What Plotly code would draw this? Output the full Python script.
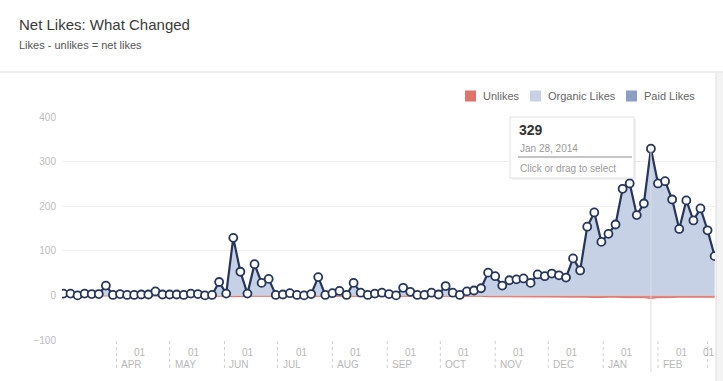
import pandas as pd
import plotly.graph_objects as go

# ---------------- data ----------------
net_likes = [4, 4, 0, 4, 3, 3, 22, 1, 3, 1,
             1, 2, 2, 9, 2, 2, 2, 1, 4, 3,
             0, 1, 30, 4, 129, 53, 4, 70, 28, 37,
             1, 2, 5, 1, 0, 3, 41, 1, 5, 10,
             1, 28, 6, 1, 4, 6, 3, 0, 17, 8,
             1, 1, 6, 2, 21, 6, 1, 9, 11, 16,
             51, 43, 22, 34, 36, 38, 28, 47, 43, 49,
             45, 40, 83, 56, 154, 186, 120, 138, 159, 239,
             251, 180, 206, 329, 251, 256, 215, 149, 213, 168,
             195, 146, 88]
unlikes = [-1, -1, -1, -1, -1, -1, -1, -1, -1, -1,
           -1, -1, -1, -1, -1, -1, -1, -1, -1, -1,
           -1, -1, -2, -2, -3, -2, -2, -2, -2, -2,
           -1, -1, -1, -1, -1, -1, -1, -1, -1, -1,
           -1, -1, -1, -1, -1, -1, -1, -1, -1, -1,
           -1, -1, -1, -1, -2, -2, -2, -2, -2, -2,
           -3, -3, -3, -3, -3, -3, -3, -3, -3, -3,
           -3, -3, -4, -3, -4, -5, -4, -4, -4, -5,
           -5, -5, -5, -7, -5, -5, -4, -4, -4, -4,
           -4, -4, -4]
dates = pd.date_range("2013-03-02", periods=len(net_likes), freq="4D")

month_ticks = ["2013-04-01", "2013-05-01", "2013-06-01", "2013-07-01", "2013-08-01",
               "2013-09-01", "2013-10-01", "2013-11-01", "2013-12-01", "2014-01-01",
               "2014-02-01", "2014-03-01"]
month_names = ["APR", "MAY", "JUN", "JUL", "AUG", "SEP", "OCT", "NOV", "DEC", "JAN", "FEB", ""]
day_label = "01"
y_ticks = [-100, 0, 100, 200, 300, 400]

series_names = ["Unlikes", "Organic Likes", "Paid Likes"]
series_colors = ["#e0726c", "#c6d1e5", "#8d9fc5"]

title = "Net Likes: What Changed"
subtitle = "Likes - unlikes = net likes"

# ---------------- geometry helpers ----------------
W, H = 723, 381
L, R, T, B = 62, 715, 117, 340  # plot area in pixels


def px(x):
    return (x - L) / (R - L)


def py(y):
    return (B - y) / (B - T)


FONT = "Liberation Sans, Arial, sans-serif"
NAVY = "#26355a"

fig = go.Figure()

fig.add_trace(go.Scatter(x=dates, y=unlikes, mode="lines", fill="tozeroy",
                         line=dict(color=series_colors[0], width=1),
                         fillcolor="rgba(224,114,108,0.85)", hoverinfo="skip",
                         showlegend=False))
fig.add_trace(go.Scatter(x=dates, y=net_likes, mode="lines", fill="tozeroy",
                         line=dict(width=0, color=series_colors[1]),
                         fillcolor=series_colors[1], hoverinfo="skip", showlegend=False))

# hover guide line at peak
peak_i = max(range(len(net_likes)), key=lambda i: net_likes[i])
peak_date = dates[peak_i]
peak_val = net_likes[peak_i]

fig.add_shape(type="line", xref="x", yref="paper", x0=peak_date, x1=peak_date,
              y0=py(372), y1=(peak_val + 100) / 500, line=dict(color="#d9dde4", width=1),
              layer="above")

fig.add_trace(go.Scatter(x=dates, y=net_likes, mode="lines+markers",
                         line=dict(color=NAVY, width=2.2),
                         marker=dict(size=8, color="white", line=dict(color=NAVY, width=1.8)),
                         showlegend=False, name="Net likes"))

shapes = []
annotations = []

# header band
shapes.append(dict(type="rect", xref="paper", yref="paper", x0=px(0), x1=px(W),
                   y0=py(72), y1=py(0), fillcolor="#f1f1f1", line=dict(width=0), layer="above"))
shapes.append(dict(type="line", xref="paper", yref="paper", x0=px(0), x1=px(W),
                   y0=py(72), y1=py(72), line=dict(color="#dcdcdc", width=1), layer="above"))
# right border strip
shapes.append(dict(type="rect", xref="paper", yref="paper", x0=px(716), x1=px(W),
                   y0=py(H), y1=py(73), fillcolor="#f3f3f3", line=dict(width=0), layer="above"))
shapes.append(dict(type="line", xref="paper", yref="paper", x0=px(716), x1=px(716),
                   y0=py(H), y1=py(73), line=dict(color="#dedede", width=1), layer="above"))

annotations.append(dict(text=title, xref="paper", yref="paper", x=px(17), y=py(25),
                        xanchor="left", yanchor="middle", showarrow=False,
                        font=dict(family=FONT, size=15, color="#3a3a3a")))
annotations.append(dict(text=subtitle, xref="paper", yref="paper", x=px(17), y=py(45),
                        xanchor="left", yanchor="middle", showarrow=False,
                        font=dict(family=FONT, size=11, color="#555555")))

# month ticks (dotted) and labels
for d, name in zip(month_ticks, month_names):
    shapes.append(dict(type="line", xref="x", yref="paper", x0=d, x1=d, y0=py(341), y1=py(371),
                       line=dict(color="#cfcfcf", width=1, dash="dot")))
    if name:
        annotations.append(dict(text=day_label, xref="x", yref="paper", x=d, y=py(352),
                                xshift=24, xanchor="center", yanchor="middle", showarrow=False,
                                font=dict(family=FONT, size=10, color="#b8b8b8")))
        annotations.append(dict(text=name, xref="x", yref="paper", x=d, y=py(364),
                                xshift=3, xanchor="left", yanchor="middle", showarrow=False,
                                font=dict(family=FONT, size=10, color="#b8b8b8")))
    else:
        annotations.append(dict(text=day_label, xref="x", yref="paper", x=d, y=py(352),
                                xshift=1, xanchor="center", yanchor="middle", showarrow=False,
                                font=dict(family=FONT, size=10, color="#b8b8b8")))

# legend (custom squares)
leg_x = [465, 530, 626]
for xx, name, col in zip(leg_x, series_names, series_colors):
    shapes.append(dict(type="rect", xref="paper", yref="paper", x0=px(xx), x1=px(xx + 11),
                       y0=py(101.5), y1=py(90.5), fillcolor=col, line=dict(width=0)))
    annotations.append(dict(text=name, xref="paper", yref="paper", x=px(xx + 16), y=py(96),
                            xanchor="left", yanchor="middle", showarrow=False,
                            font=dict(family=FONT, size=11, color="#666666")))

# tooltip
shapes.append(dict(type="rect", xref="paper", yref="paper", x0=px(512), x1=px(636),
                   y0=py(180), y1=py(119), fillcolor="rgba(0,0,0,0.06)", line=dict(width=0),
                   layer="above"))
shapes.append(dict(type="rect", xref="paper", yref="paper", x0=px(510), x1=px(634),
                   y0=py(178), y1=py(117), fillcolor="white", line=dict(color="#e2e2e2", width=1),
                   layer="above"))
shapes.append(dict(type="line", xref="paper", yref="paper", x0=px(518), x1=px(632),
                   y0=py(157), y1=py(157), line=dict(color="#8a8a8a", width=1), layer="above"))
annotations.append(dict(text="<b>%d</b>" % peak_val, xref="paper", yref="paper", x=px(517), y=py(130),
                        xanchor="left", yanchor="middle", showarrow=False,
                        font=dict(family=FONT, size=14, color="#333333")))
annotations.append(dict(text=peak_date.strftime("%b %d, %Y"), xref="paper", yref="paper",
                        x=px(518), y=py(148), xanchor="left", yanchor="middle", showarrow=False,
                        font=dict(family=FONT, size=10, color="#9a9a9a")))
annotations.append(dict(text="Click or drag to select", xref="paper", yref="paper",
                        x=px(518), y=py(168), xanchor="left", yanchor="middle", showarrow=False,
                        font=dict(family=FONT, size=10, color="#9a9a9a")))

fig.update_layout(
    width=W, height=H,
    margin=dict(l=L, r=W - R, t=T, b=H - B, pad=0),
    paper_bgcolor="white", plot_bgcolor="white",
    showlegend=False,
    shapes=shapes, annotations=annotations,
    font=dict(family=FONT),
)
fig.update_xaxes(range=["2013-03-01 05:00", "2014-03-05 05:00"], showgrid=False,
                 showticklabels=False, zeroline=False, showline=False, ticks="")
fig.update_yaxes(range=[-100, 400], tickvals=y_ticks, showgrid=True, gridcolor="#efefef",
                 zeroline=False, showline=False, ticks="", ticklabelstandoff=5,
                 tickfont=dict(family=FONT, size=10, color="#bdbdbd"))

fig.write_html("out.html", config={"displayModeBar": False},
               post_script="document.body.style.margin='0';document.body.style.padding='0';")
